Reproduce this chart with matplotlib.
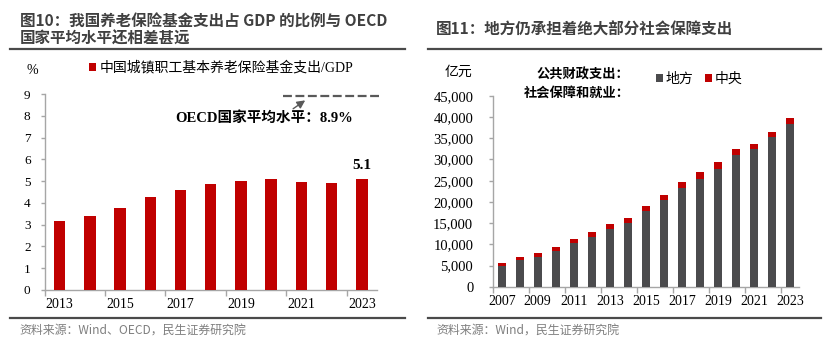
import numpy as np
import matplotlib
matplotlib.use("Agg")
import matplotlib.pyplot as plt
from matplotlib.lines import Line2D
from matplotlib.ticker import FuncFormatter

plt.rcParams['font.family'] = ['Liberation Serif', 'Noto Sans CJK SC']
plt.rcParams['axes.unicode_minus'] = False

# pension fund expenditure / GDP, %
years_l = [2013, 2014, 2015, 2016, 2017, 2018, 2019, 2020, 2021, 2022, 2023]
pension_gdp = [3.15, 3.42, 3.77, 4.29, 4.59, 4.87, 5.02, 5.09, 4.94, 4.92, 5.1]
oecd_avg = 8.9

# social security & employment spending, 100 million yuan
years_r = list(range(2007, 2024))
local_exp = [4850, 6250, 6950, 8450, 10250, 11650, 13550, 14950, 17950,
             20450, 23350, 25500, 27800, 31000, 32400, 35400, 38300]
central_exp = [750, 850, 900, 900, 1050, 1150, 1150, 1150, 1200,
               1200, 1350, 1550, 1550, 1500, 1250, 1150, 1400]

RED = '#c00000'
GRAY = '#4b4b4d'
AXC = '#a6a6a6'
TXT = '#404040'
CJK_SANS = ['Noto Sans CJK SC', 'DejaVu Sans']
W, H = 832, 349

fig = plt.figure(figsize=(W / 100, H / 100), dpi=100)


def fx(x):
    return x / W


def fy(y):
    return 1 - y / H


def style_axes(ax, n, ylabsize):
    for s in ['top', 'right']:
        ax.spines[s].set_visible(False)
    for s in ['left', 'bottom']:
        ax.spines[s].set_color(AXC)
        ax.spines[s].set_linewidth(1.0)
    ax.set_xlim(-0.5, n - 0.5)
    bounds = np.arange(-0.5, n - 1, 2)
    ax.set_xticks(bounds)
    ax.set_xticklabels([])
    ax.tick_params(axis='x', which='major', length=4, color=AXC, width=1)
    ax.tick_params(axis='x', which='minor', length=0, labelsize=10, pad=6)
    ax.tick_params(axis='y', length=3, color=AXC, width=1,
                   labelsize=ylabsize, pad=7)


# ---------- left: pension expenditure ratio ----------
ax1 = fig.add_axes([fx(44.5), fy(290), fx(377) - fx(44.5), fy(94) - fy(290)])
x1 = np.arange(len(years_l))
bars1 = ax1.bar(x1, pension_gdp, width=0.38, color=RED, zorder=3,
                label='中国城镇职工基本养老保险基金支出/GDP')
style_axes(ax1, len(years_l), 9.5)
ax1.set_xticks(x1[::2], minor=True)
ax1.set_xticklabels([str(y) for y in years_l[::2]], minor=True)
ax1.set_ylim(0, 9)
ax1.set_yticks(range(0, 10))

ax1.annotate(f'{pension_gdp[-1]:.1f}', (x1[-1], pension_gdp[-1]),
             xytext=(0, 5), textcoords='offset points', ha='center',
             va='bottom', fontsize=11, fontweight='bold')

# OECD average reference line
ax1.add_line(Line2D([7.4, 10.6], [oecd_avg, oecd_avg], color='#595959',
                    lw=1.6, dashes=(4, 1.6), clip_on=False))
ax1.annotate('', xy=(8.2, oecd_avg - 0.12), xytext=(7.65, 8.25),
             arrowprops=dict(arrowstyle='-|>', color='#595959', lw=1,
                             mutation_scale=12))
ax1.text(6.77, 7.9, f'OECD国家平均水平：{oecd_avg}%', ha='center',
         va='center', fontsize=10.5, fontweight='bold')

fig.text(fx(32), fy(70), '%', ha='center', va='center', fontsize=10)
ax1.legend(loc='center left', bbox_to_anchor=(fx(89), fy(68)),
           bbox_transform=fig.transFigure, frameon=False, fontsize=10,
           handlelength=0.5, handleheight=0.5, handletextpad=0.3,
           borderpad=0, borderaxespad=0)

# ---------- right: social security spending ----------
ax2 = fig.add_axes([fx(492.7), fy(286.7), fx(799) - fx(492.7),
                    fy(95.9) - fy(286.7)])
x2 = np.arange(len(years_r))
ax2.bar(x2, local_exp, width=0.43, color=GRAY, zorder=3, label='地方')
ax2.bar(x2, central_exp, width=0.43, bottom=local_exp, color=RED,
        zorder=3, label='中央')
style_axes(ax2, len(years_r), 10.5)
ax2.set_xticks(x2[::2], minor=True)
ax2.set_xticklabels([str(y) for y in years_r[::2]], minor=True)
ax2.set_ylim(0, 45000)
ax2.set_yticks(range(0, 45001, 5000))
ax2.yaxis.set_major_formatter(FuncFormatter(lambda v, p: f'{int(v):,}'))
ax2.tick_params(axis='y', pad=11)

fig.text(fx(458.7), fy(72), '亿元', ha='center', va='center', fontsize=10,
         family=CJK_SANS)
fig.text(fx(629), fy(75), '公共财政支出：', ha='right', va='center',
         fontsize=9.5, fontweight='bold', family=CJK_SANS)
fig.text(fx(524), fy(92.7), '社会保障和就业：', ha='left', va='center',
         fontsize=9.5, fontweight='bold', family=CJK_SANS)
ax2.legend(loc='center left', bbox_to_anchor=(fx(656), fy(79)),
           bbox_transform=fig.transFigure, frameon=False, fontsize=10,
           ncol=2, handlelength=0.5, handleheight=0.5, handletextpad=0.2,
           columnspacing=0.8, borderpad=0, borderaxespad=0,
           prop={'family': CJK_SANS, 'size': 10})

# ---------- titles, rules and sources ----------
fig.text(fx(20), fy(21.5), '图10：我国养老保险基金支出占 GDP 的比例与 OECD',
         ha='left', va='center', fontsize=11.2, fontweight='bold',
         color=TXT, family=CJK_SANS)
fig.text(fx(20), fy(38.5), '国家平均水平还相差甚远', ha='left', va='center',
         fontsize=11.2, fontweight='bold', color=TXT, family=CJK_SANS)
fig.text(fx(436), fy(30), '图11：地方仍承担着绝大部分社会保障支出',
         ha='left', va='center', fontsize=11.2, fontweight='bold',
         color=TXT, family=CJK_SANS)

for x0, x1_ in [(10, 405), (428, 821)]:
    for yy in (49.3, 318.3):
        fig.add_artist(Line2D([fx(x0), fx(x1_)], [fy(yy), fy(yy)],
                              color='#4a4a4a', lw=1.6))

fig.text(fx(19), fy(330), '资料来源：Wind、OECD，民生证券研究院', ha='left',
         va='center', fontsize=8.6, color='#7f7f7f', family=CJK_SANS)
fig.text(fx(436), fy(330), '资料来源：Wind，民生证券研究院', ha='left',
         va='center', fontsize=8.6, color='#7f7f7f', family=CJK_SANS)

fig.savefig('out.png', dpi=100)
